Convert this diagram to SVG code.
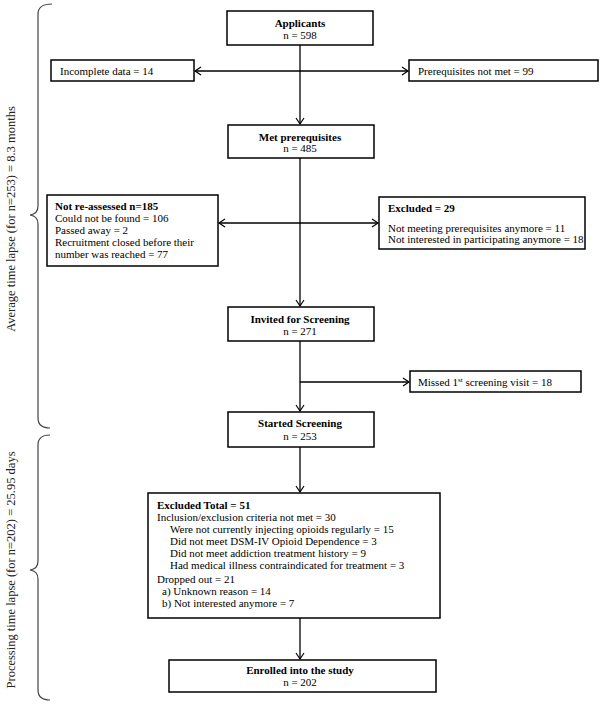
<svg xmlns="http://www.w3.org/2000/svg" width="600" height="704" viewBox="0 0 600 704">
<style>
text{font-family:"Liberation Serif","DejaVu Serif",serif;font-size:11px;fill:#000}
.b{font-weight:bold}
.c{text-anchor:middle}
.box{fill:#fff;stroke:#000;stroke-width:1.5}
.con{fill:none;stroke:#000;stroke-width:1.3}
.brace{fill:none;stroke:#444;stroke-width:1.2}
.side{font-size:12.5px;text-anchor:middle;fill:#222}
</style>
<defs>
<marker id="ah" markerUnits="userSpaceOnUse" markerWidth="12" markerHeight="12" viewBox="-8 -6 10 12" refX="0" refY="0" orient="auto">
<path d="M-6,-4 L0,0 L-6,4" fill="none" stroke="#000" stroke-width="1.2"/>
</marker>
</defs>
<rect width="600" height="704" fill="#fff"/>

<g id="connectors">
<path class="con" d="M300,45 L300,124" marker-end="url(#ah)"/>
<path class="con" d="M300,71 L195,71" marker-end="url(#ah)"/>
<path class="con" d="M300,71 L408,71" marker-end="url(#ah)"/>
<path class="con" d="M300,158 L300,306" marker-end="url(#ah)"/>
<path class="con" d="M300,223 L219,223" marker-end="url(#ah)"/>
<path class="con" d="M300,223 L378,223" marker-end="url(#ah)"/>
<path class="con" d="M300,341 L300,411" marker-end="url(#ah)"/>
<path class="con" d="M300,382 L409,382" marker-end="url(#ah)"/>
<path class="con" d="M300,447 L300,492" marker-end="url(#ah)"/>
<path class="con" d="M300,618 L300,659" marker-end="url(#ah)"/>
</g>

<g id="brace-average">
<path class="brace" d="M52,4 Q38,4 38,14 L38,206 Q38,214 30,215 Q38,216 38,224 L38,418 Q38,428 50,428"/>
<text class="side" transform="translate(15,219) rotate(-90)">Average time lapse (for n=253) = 8.3 months</text>
</g>
<g id="brace-processing">
<path class="brace" d="M50,435 Q38,435 38,445 L38,561 Q38,569 30,570 Q38,571 38,579 L38,690 Q38,700 50,700"/>
<text class="side" transform="translate(15,570) rotate(-90)">Processing time lapse (for n=202) = 25.95 days</text>
</g>

<g id="applicants">
<rect class="box" x="227" y="11" width="146" height="34"/>
<text class="c b" x="300" y="27">Applicants</text>
<text class="c" x="300" y="39">n = 598</text>
</g>
<g id="incomplete">
<rect class="box" x="51" y="60" width="143" height="21"/>
<text x="60" y="75">Incomplete data = 14</text>
</g>
<g id="prereq-not-met">
<rect class="box" x="409" y="60" width="189" height="21"/>
<text x="418" y="75">Prerequisites not met  = 99</text>
</g>
<g id="met-prereq">
<rect class="box" x="228" y="125" width="146" height="33"/>
<text class="c b" x="300" y="141">Met prerequisites</text>
<text class="c" x="300" y="152">n = 485</text>
</g>
<g id="not-reassessed">
<rect class="box" x="47" y="195" width="171" height="71"/>
<text class="b" x="55" y="210">Not re-assessed n=185</text>
<text x="55" y="222">Could not be found = 106</text>
<text x="55" y="234">Passed away = 2</text>
<text x="55" y="246">Recruitment closed before their</text>
<text x="55" y="258">number was reached = 77</text>
</g>
<g id="excluded-29">
<rect class="box" x="379" y="197" width="206" height="52"/>
<text class="b" x="388" y="212">Excluded = 29</text>
<text x="388" y="232">Not meeting prerequisites anymore = 11</text>
<text x="388" y="243">Not interested in participating anymore = 18</text>
</g>
<g id="invited">
<rect class="box" x="228" y="307" width="146" height="34"/>
<text class="c b" x="300" y="323">Invited for Screening</text>
<text class="c" x="300" y="335">n = 271</text>
</g>
<g id="missed">
<rect class="box" x="410" y="371" width="171" height="21"/>
<text x="418" y="386">Missed 1<tspan font-size="7" dy="-4">st</tspan><tspan dy="4"> screening visit  = 18</tspan></text>
</g>
<g id="started">
<rect class="box" x="228" y="412" width="146" height="35"/>
<text class="c b" x="300" y="427">Started Screening</text>
<text class="c" x="300" y="440">n = 253</text>
</g>
<g id="excluded-total">
<rect class="box" x="148" y="493" width="292" height="125"/>
<text class="b" x="157" y="509">Excluded Total = 51</text>
<text x="157" y="521">Inclusion/exclusion criteria not met = 30</text>
<text x="170" y="533">Were not currently injecting opioids regularly = 15</text>
<text x="170" y="545">Did not meet DSM-IV Opioid Dependence = 3</text>
<text x="170" y="557">Did not meet addiction treatment history = 9</text>
<text x="170" y="569">Had medical illness contraindicated for treatment = 3</text>
<text x="157" y="583">Dropped out = 21</text>
<text x="162" y="595">a) Unknown reason = 14</text>
<text x="162" y="607">b) Not interested anymore = 7</text>
</g>
<g id="enrolled">
<rect class="box" x="169" y="660" width="267" height="32"/>
<text class="c b" x="300" y="674">Enrolled into the study</text>
<text class="c" x="300" y="686">n = 202</text>
</g>
</svg>
